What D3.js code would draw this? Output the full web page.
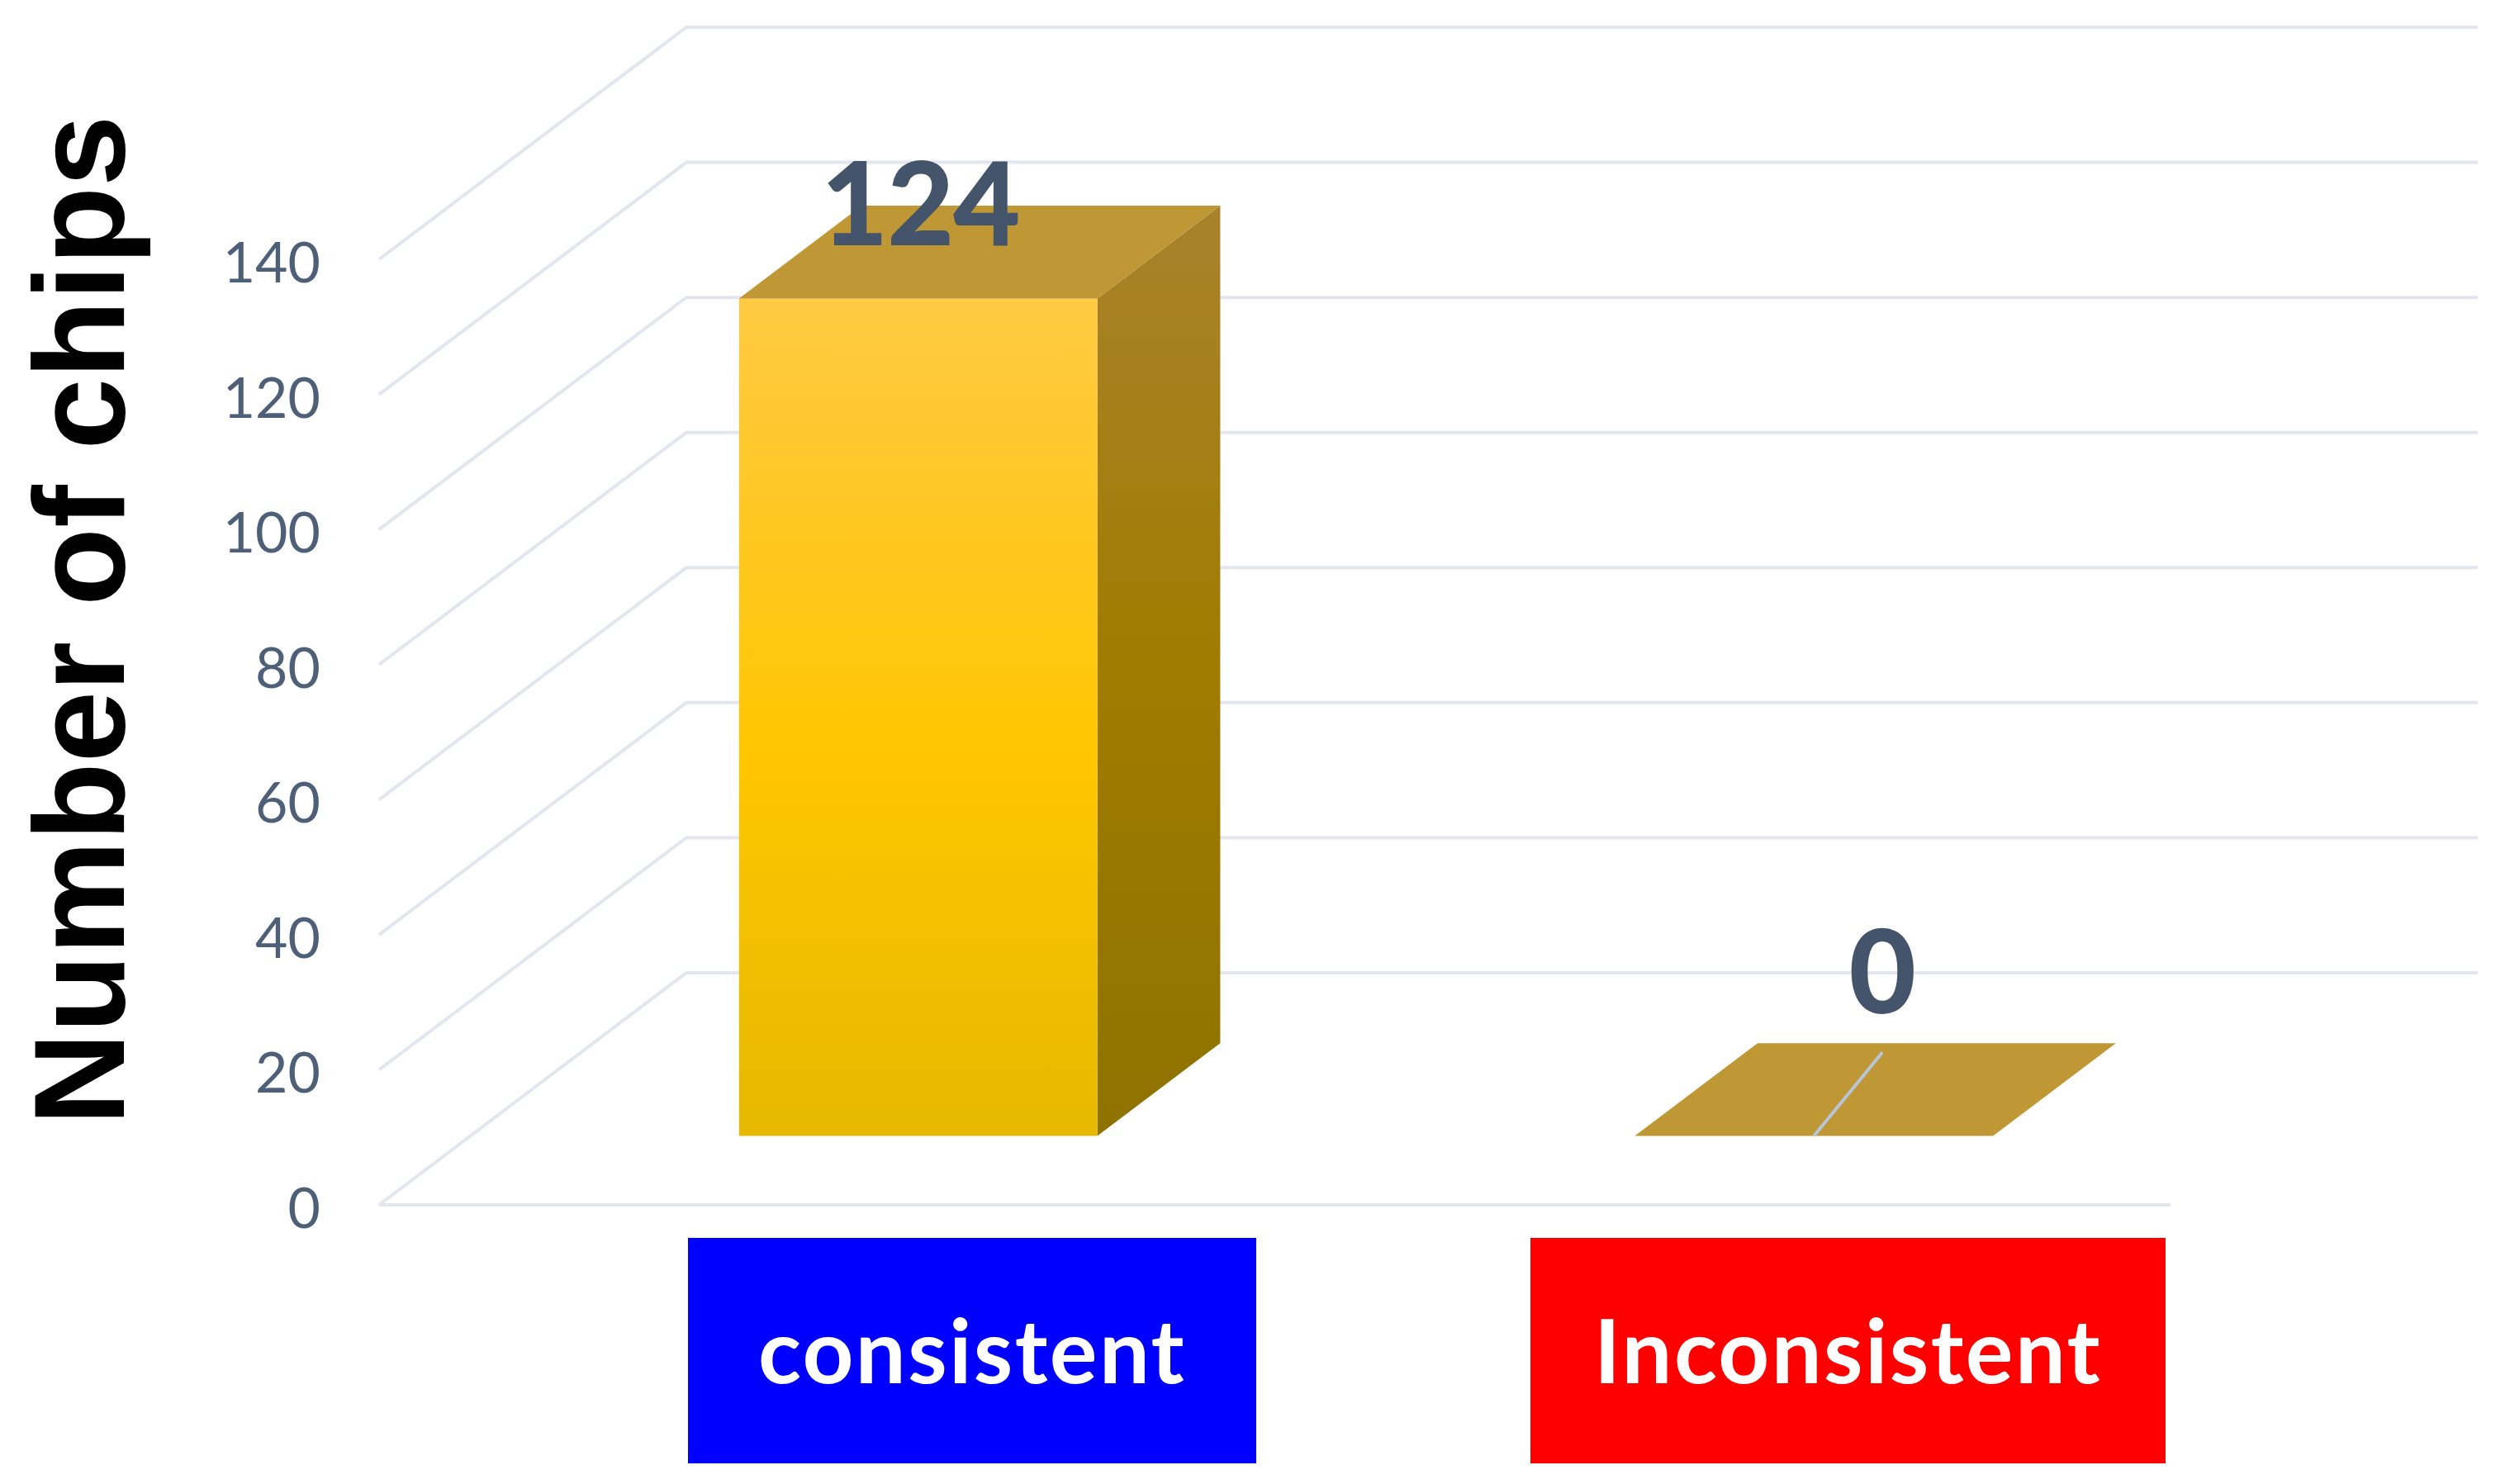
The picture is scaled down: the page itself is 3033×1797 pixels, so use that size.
<!DOCTYPE html>
<html>
<head>
<meta charset="utf-8">
<script src="https://cdn.jsdelivr.net/npm/d3@7"></script>
<style>
    html, body { margin: 0; padding: 0; background: #fff; }
    svg { display: block; }
</style>
</head>
<body>
<div id="chart"></div>
<script>
// Data
const categories = ['consistent', 'Inconsistent']
const chips = [124, 0]
const yTicks = [0, 20, 40, 60, 80, 100, 120, 140]
const boxColours = ['#0000ff', '#ff0000']

const width = 3033, height = 1797

const svg = d3.select('#chart').append('svg')
    .attr('width', width)
    .attr('height', height)

// Scales: x and y run on the front edge of the floor, depth pushes things back
const xScale = d3.scaleBand().domain(categories).range([459, 2628]).paddingInner(0.6).paddingOuter(0.3),
    yScale = d3.scaleLinear().domain([0, 140]).range([1459, 314]),
    depthX = d3.scaleLinear().domain([0, 1]).range([0, 372]),
    depthY = d3.scaleLinear().domain([0, 1]).range([0, -281])

// value space -> screen
function project(x, value, depth) {
    return [x + depthX(depth), yScale(value) + depthY(depth)]
}

const barFront = 0.297, barBack = 0.697
const line = d3.line()

// Bar gradients
const defs = svg.append('defs')

function gradient(id, stops) {
    defs.append('linearGradient')
        .attr('id', id)
        .attr('gradientUnits', 'objectBoundingBox')
        .attr('x1', 0).attr('y1', 0).attr('x2', 0).attr('y2', 1)
        .selectAll('stop')
        .data(stops)
        .enter()
        .append('stop')
        .attr('offset', d => d[0])
        .attr('stop-color', d => d[1])
}

gradient('front', [[0, '#ffc942'], [0.55, '#ffc600'], [1, '#e6b800']])
gradient('side', [[0, '#a8822c'], [0.5, '#a07c00'], [1, '#8e7200']])

// Grid: wall + floor side
const grid = svg.append('g').attr('id', 'grid')
    .attr('fill', 'none')
    .attr('stroke', '#e3e6ee')
    .attr('stroke-width', 4)

grid.selectAll('path.wall')
    .data(yTicks)
    .enter()
    .append('path')
    .attr('class', 'wall')
    .attr('d', d => line([
        project(xScale.range()[0], d, 0),
        project(xScale.range()[0], d, 1),
        project(xScale.range()[1], d, 1)
    ]))

grid.append('path')
    .attr('d', line([project(xScale.range()[0], 0, 0), project(xScale.range()[1], 0, 0)]))

// Y tick labels
svg.append('g').attr('id', 'yticks')
    .selectAll('text')
    .data(yTicks)
    .enter()
    .append('text')
    .attr('x', 388)
    .attr('y', d => yScale(d) + 28)
    .attr('text-anchor', 'end')
    .attr('font-family', 'Lato')
    .attr('font-size', 68)
    .attr('fill', '#4e5f78')
    .text(d => d)

// Bars
const bars = svg.append('g').attr('id', 'bars')
    .selectAll('g')
    .data(categories.map((c, i) => ({ category: c, value: chips[i] })))
    .enter()
    .append('g')

bars.append('path')
    .attr('fill', 'url(#side)')
    .attr('d', d => {
        let x = xScale(d.category) + xScale.bandwidth()
        return line([
            project(x, 0, barFront), project(x, 0, barBack),
            project(x, d.value, barBack), project(x, d.value, barFront)
        ]) + 'Z'
    })
    .attr('display', d => d.value > 0 ? null : 'none')

bars.append('path')
    .attr('fill', 'url(#front)')
    .attr('d', d => {
        let x0 = xScale(d.category), x1 = x0 + xScale.bandwidth()
        return line([
            project(x0, 0, barFront), project(x1, 0, barFront),
            project(x1, d.value, barFront), project(x0, d.value, barFront)
        ]) + 'Z'
    })
    .attr('display', d => d.value > 0 ? null : 'none')

bars.append('path')
    .attr('fill', '#c09735')
    .attr('d', d => {
        let x0 = xScale(d.category), x1 = x0 + xScale.bandwidth()
        return line([
            project(x0, d.value, barFront), project(x1, d.value, barFront),
            project(x1, d.value, barBack), project(x0, d.value, barBack)
        ]) + 'Z'
    })

// leader line only shows on the empty bar
bars.filter(d => d.value === 0)
    .append('path')
    .attr('fill', 'none')
    .attr('stroke', '#b7c6d6')
    .attr('stroke-width', 4)
    .attr('d', d => {
        let xc = xScale(d.category) + xScale.bandwidth() / 2
        return line([project(xc, 0, barFront), [project(xc, 0, barFront)[0] + 83, project(xc, 0, barBack)[1] + 11]])
    })

// Value labels
bars.append('text')
    .attr('x', d => xScale(d.category) + xScale.bandwidth() / 2 + depthX(0.52) + (d.value > 0 ? -80 : 0))
    .attr('y', d => yScale(d.value) + depthY(barBack) - (d.value > 0 ? -47 : 37))
    .attr('text-anchor', 'middle')
    .attr('font-family', 'Lato')
    .attr('font-weight', 700)
    .attr('font-size', 138)
    .attr('fill', '#44546a')
    .attr('stroke', '#44546a')
    .attr('stroke-width', 2)
    .text(d => d.value)

// Category boxes
const boxExtent = d3.scaleOrdinal().domain(categories).range([[833, 1521], [1853, 2622]]),
    boxColour = d3.scaleOrdinal().domain(categories).range(boxColours)

const boxes = svg.append('g').attr('id', 'categories')
    .selectAll('g')
    .data(categories)
    .enter()
    .append('g')

boxes.append('rect')
    .attr('x', d => boxExtent(d)[0])
    .attr('y', 1499)
    .attr('width', d => boxExtent(d)[1] - boxExtent(d)[0])
    .attr('height', 273)
    .attr('fill', d => boxColour(d))

boxes.append('text')
    .attr('x', d => (boxExtent(d)[0] + boxExtent(d)[1]) / 2)
    .attr('y', 1675)
    .attr('text-anchor', 'middle')
    .attr('font-family', 'Lato')
    .attr('font-weight', 700)
    .attr('font-size', 108)
    .attr('letter-spacing', 2.4)
    .attr('fill', '#fff')
    .text(d => d)

// Axis title
svg.append('text')
    .attr('transform', 'translate(150,751) rotate(-90)')
    .attr('text-anchor', 'middle')
    .attr('font-family', 'Liberation Sans')
    .attr('font-weight', 700)
    .attr('font-size', 155)
    .attr('fill', '#000')
    .text('Number of chips')
</script>
</body>
</html>
